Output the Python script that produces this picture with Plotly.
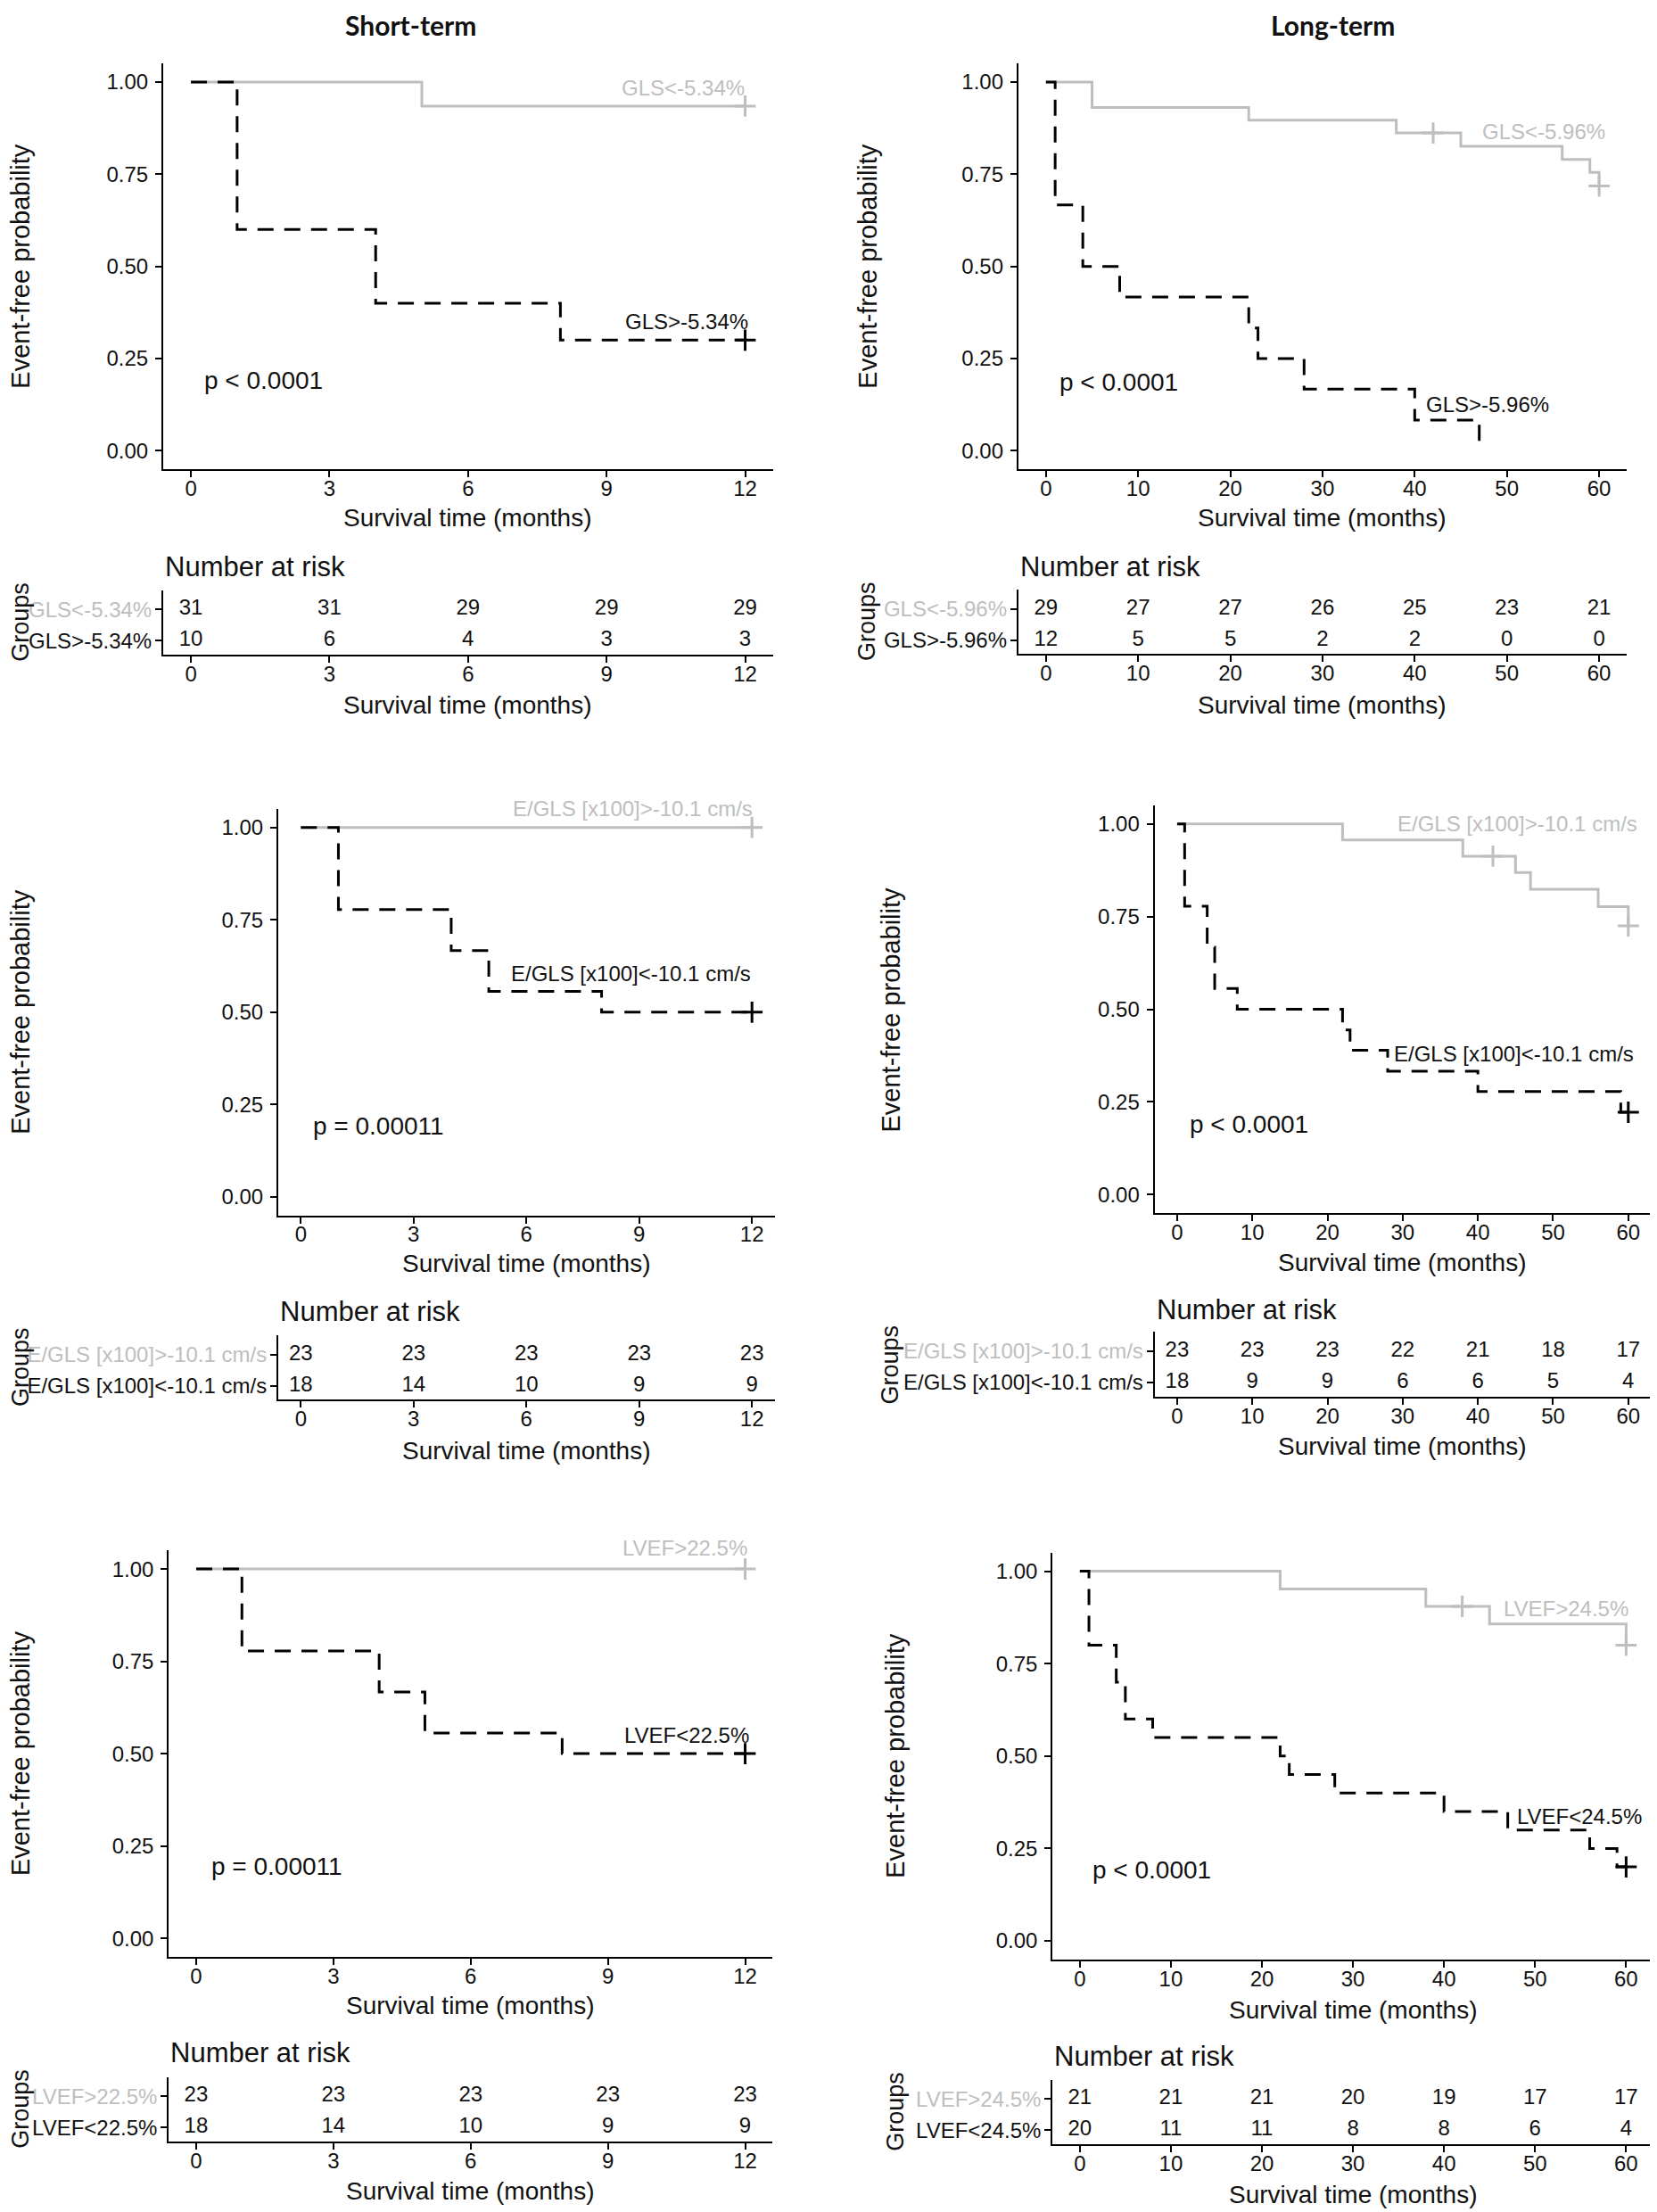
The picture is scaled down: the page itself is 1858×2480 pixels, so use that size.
import plotly.graph_objects as go

W, H = 1858, 2480
GRAY = "#BEBEBE"
BLACK = "#000000"
FONT = "Liberation Sans, Arial, sans-serif"
TITLE_FONT = "Lato, Open Sans, sans-serif"

# ---------------- data ----------------
col_titles = ["Short-term", "Long-term"]
y_title = "Event-free probability"
x_title = "Survival time (months)"

short_ticks = [0, 3, 6, 9, 12]
long_ticks = [0, 10, 20, 30, 40, 50, 60]

# Panel A: short-term GLS
A_gray_t = [0, 5, 12]
A_gray_s = [1.0, 0.935, 0.935]
A_gray_ct = [12]
A_gray_cs = [0.935]
A_black_t = [0, 1, 4, 8, 12]
A_black_s = [1.0, 0.60, 0.40, 0.30, 0.30]
A_black_ct = [12]
A_black_cs = [0.30]
A_groups = ["GLS&lt;-5.34%", "GLS&gt;-5.34%"]
A_risk_gray = [31, 31, 29, 29, 29]
A_risk_black = [10, 6, 4, 3, 3]
A_pval = "p &lt; 0.0001"

# Panel B: long-term GLS
B_gray_t = [0, 5, 22, 38, 45, 56, 59, 60]
B_gray_s = [1.0, 0.931, 0.897, 0.862, 0.826, 0.790, 0.755, 0.718]
B_gray_ct = [42, 60]
B_gray_cs = [0.862, 0.718]
B_black_t = [0, 1, 4, 8, 22, 23, 28, 40, 47]
B_black_s = [1.0, 0.667, 0.50, 0.417, 0.333, 0.25, 0.167, 0.083, 0.0]
B_black_ct = []
B_black_cs = []
B_groups = ["GLS&lt;-5.96%", "GLS&gt;-5.96%"]
B_risk_gray = [29, 27, 27, 26, 25, 23, 21]
B_risk_black = [12, 5, 5, 2, 2, 0, 0]
B_pval = "p &lt; 0.0001"

# Panel C: short-term E/GLS
C_gray_t = [0, 12]
C_gray_s = [1.0, 1.0]
C_gray_ct = [12]
C_gray_cs = [1.0]
C_black_t = [0, 1, 4, 5, 8, 12]
C_black_s = [1.0, 0.778, 0.667, 0.556, 0.50, 0.50]
C_black_ct = [12]
C_black_cs = [0.50]
C_groups = ["E/GLS [x100]&gt;-10.1 cm/s", "E/GLS [x100]&lt;-10.1 cm/s"]
C_risk_gray = [23, 23, 23, 23, 23]
C_risk_black = [18, 14, 10, 9, 9]
C_pval = "p = 0.00011"

# Panel D: long-term E/GLS
D_gray_t = [0, 22, 38, 45, 47, 56, 60]
D_gray_s = [1.0, 0.957, 0.913, 0.869, 0.824, 0.777, 0.725]
D_gray_ct = [42, 60]
D_gray_cs = [0.913, 0.725]
D_black_t = [0, 1, 4, 5, 8, 22, 23, 28, 40, 59, 60]
D_black_s = [1.0, 0.778, 0.667, 0.556, 0.50, 0.444, 0.389, 0.333, 0.278, 0.222, 0.222]
D_black_ct = [60]
D_black_cs = [0.222]
D_groups = ["E/GLS [x100]&gt;-10.1 cm/s", "E/GLS [x100]&lt;-10.1 cm/s"]
D_risk_gray = [23, 23, 23, 22, 21, 18, 17]
D_risk_black = [18, 9, 9, 6, 6, 5, 4]
D_pval = "p &lt; 0.0001"

# Panel E: short-term LVEF
E_gray_t = [0, 12]
E_gray_s = [1.0, 1.0]
E_gray_ct = [12]
E_gray_cs = [1.0]
E_black_t = [0, 1, 4, 5, 8, 12]
E_black_s = [1.0, 0.778, 0.667, 0.556, 0.50, 0.50]
E_black_ct = [12]
E_black_cs = [0.50]
E_groups = ["LVEF&gt;22.5%", "LVEF&lt;22.5%"]
E_risk_gray = [23, 23, 23, 23, 23]
E_risk_black = [18, 14, 10, 9, 9]
E_pval = "p = 0.00011"

# Panel F: long-term LVEF
F_gray_t = [0, 22, 38, 45, 60]
F_gray_s = [1.0, 0.952, 0.905, 0.857, 0.80]
F_gray_ct = [42, 60]
F_gray_cs = [0.905, 0.80]
F_black_t = [0, 1, 4, 5, 8, 22, 23, 28, 40, 47, 56, 59, 60]
F_black_s = [1.0, 0.80, 0.70, 0.60, 0.55, 0.50, 0.45, 0.40, 0.35, 0.30, 0.25, 0.20, 0.20]
F_black_ct = [60]
F_black_cs = [0.20]
F_groups = ["LVEF&gt;24.5%", "LVEF&lt;24.5%"]
F_risk_gray = [21, 21, 21, 20, 19, 17, 17]
F_risk_black = [20, 11, 11, 8, 8, 6, 4]
F_pval = "p &lt; 0.0001"

# ---------------- layout (pixel geometry) ----------------
panels = [
    dict(ticks=short_ticks, gt=A_gray_t, gs=A_gray_s, gct=A_gray_ct, gcs=A_gray_cs,
         bt=A_black_t, bs=A_black_s, bct=A_black_ct, bcs=A_black_cs, groups=A_groups,
         rg=A_risk_gray, rb=A_risk_black, pval=A_pval,
         kx=(185, 868.6), ky=(71.4, 526), tbot=734,
         glab=(12.03, 0.984), blab=(12.1, 0.351), pxy=(0.25, 0.19),
         ytx=25, grx=25, kxt=580, txt=790, nar=635),
    dict(ticks=long_ticks, gt=B_gray_t, gs=B_gray_s, gct=B_gray_ct, gcs=B_gray_cs,
         bt=B_black_t, bs=B_black_s, bct=B_black_ct, bcs=B_black_cs, groups=B_groups,
         rg=B_risk_gray, rb=B_risk_black, pval=B_pval,
         kx=(1143.8, 1826.1), ky=(71.4, 526), tbot=733.3,
         glab=(60.85, 0.867), blab=(54.8, 0.126), pxy=(1.27, 0.186),
         ytx=975, grx=974, kxt=580, txt=790, nar=635),
    dict(ticks=short_ticks, gt=C_gray_t, gs=C_gray_s, gct=C_gray_ct, gcs=C_gray_cs,
         bt=C_black_t, bs=C_black_s, bct=C_black_ct, bcs=C_black_cs, groups=C_groups,
         rg=C_risk_gray, rb=C_risk_black, pval=C_pval,
         kx=(314, 870.5), ky=(907, 1362.6), tbot=1569.3,
         glab=(12.07, 1.051), blab=(12.03, 0.605), pxy=(0.28, 0.192),
         ytx=25, grx=25, kxt=1416.7, txt=1626.7, nar=1470),
    dict(ticks=long_ticks, gt=D_gray_t, gs=D_gray_s, gct=D_gray_ct, gcs=D_gray_cs,
         bt=D_black_t, bs=D_black_s, bct=D_black_ct, bcs=D_black_cs, groups=D_groups,
         rg=D_risk_gray, rb=D_risk_black, pval=D_pval,
         kx=(1296.6, 1853.1), ky=(903, 1360), tbot=1565.7,
         glab=(61.4, 1.0), blab=(61.0, 0.38), pxy=(1.4, 0.19),
         ytx=1000, grx=1000, kxt=1415, txt=1621.7, nar=1468),
    dict(ticks=short_ticks, gt=E_gray_t, gs=E_gray_s, gct=E_gray_ct, gcs=E_gray_cs,
         bt=E_black_t, bs=E_black_s, bct=E_black_ct, bcs=E_black_cs, groups=E_groups,
         rg=E_risk_gray, rb=E_risk_black, pval=E_pval,
         kx=(191.2, 868.3), ky=(1738.4, 2193.8), tbot=2401,
         glab=(12.09, 1.056), blab=(12.12, 0.55), pxy=(0.29, 0.195),
         ytx=25, grx=25, kxt=2248, txt=2456.7, nar=2301.7),
    dict(ticks=long_ticks, gt=F_gray_t, gs=F_gray_s, gct=F_gray_ct, gcs=F_gray_cs,
         bt=F_black_t, bs=F_black_s, bct=F_black_ct, bcs=F_black_cs, groups=F_groups,
         rg=F_risk_gray, rb=F_risk_black, pval=F_pval,
         kx=(1182.2, 1856), ky=(1740.9, 2196.7), tbot=2404,
         glab=(60.45, 0.898), blab=(61.9, 0.336), pxy=(1.2, 0.193),
         ytx=1006, grx=1006, kxt=2253.8, txt=2460, nar=2305),
]

TABLE_RANGE = [0.55, 2.62]
KM_RANGE = [-0.05, 1.05]
ROW_PX = 35.0
DX, DY = -10.0, -8.0   # global offset correction


def fx(p):
    return (p + DX) / W


def fy(p):
    return 1 - (p + DY) / H


def ydom(v):
    return (v - KM_RANGE[0]) / (KM_RANGE[1] - KM_RANGE[0])


axis_common = dict(showline=True, linecolor="#000", linewidth=2, ticks="outside",
                   ticklen=7, tickwidth=2, tickcolor="#000", showgrid=False,
                   zeroline=False, fixedrange=True,
                   tickfont=dict(family=FONT, size=24, color="#111"))

fig = go.Figure()
layout = {}
ann = []


def txt(x, y, text, size, color="#111", xanchor="center", yanchor="middle",
        angle=0, family=FONT, xref="paper", yref="paper"):
    ann.append(dict(x=x, y=y, xref=xref, yref=yref, text=text, showarrow=False,
                    xanchor=xanchor, yanchor=yanchor, textangle=angle,
                    font=dict(family=family, size=size, color=color)))


for i, P in enumerate(panels):
    k = 2 * i + 1
    t = 2 * i + 2
    kx = "x" if k == 1 else f"x{k}"
    ky = "y" if k == 1 else f"y{k}"
    tx = f"x{t}"
    ty = f"y{t}"
    ticks = P["ticks"]
    xmax = ticks[-1]
    xr = [-0.05 * xmax, 1.05 * xmax]
    xdom = [fx(P["kx"][0]), min(fx(P["kx"][1]), 1.0)]

    layout["xaxis" if k == 1 else f"xaxis{k}"] = dict(
        axis_common, domain=xdom, range=xr, anchor=ky, ticklabelstandoff=-8,
        tickvals=ticks, ticktext=[str(v) for v in ticks])
    layout["yaxis" if k == 1 else f"yaxis{k}"] = dict(
        axis_common, domain=[fy(P["ky"][1]), fy(P["ky"][0])], range=KM_RANGE,
        anchor=kx, ticklabelstandoff=3, tickvals=[0, 0.25, 0.5, 0.75, 1.0],
        ticktext=["0.00", "0.25", "0.50", "0.75", "1.00"])

    tbot = P["tbot"]
    ttop = tbot - (TABLE_RANGE[1] - TABLE_RANGE[0]) * ROW_PX
    layout[f"xaxis{t}"] = dict(
        axis_common, domain=xdom, range=xr, anchor=ty, ticklabelstandoff=-8,
        tickvals=ticks, ticktext=[str(v) for v in ticks])
    layout[f"yaxis{t}"] = dict(
        axis_common, domain=[fy(tbot), fy(ttop)], range=TABLE_RANGE, anchor=tx,
        tickvals=[2, 1], ticklabelstandoff=-1,
        ticktext=[f"<span style='color:{GRAY}'>{P['groups'][0]}</span>",
                  f"<span style='color:#111'>{P['groups'][1]}</span>"])

    # KM curves
    fig.add_trace(go.Scatter(x=P["gt"], y=P["gs"], mode="lines", line_shape="hv",
                             line=dict(color=GRAY, width=3), xaxis=kx, yaxis=ky,
                             hoverinfo="skip"))
    fig.add_trace(go.Scatter(x=P["bt"], y=P["bs"], mode="lines", line_shape="hv",
                             line=dict(color=BLACK, width=3, dash="18px,12px"),
                             xaxis=kx, yaxis=ky, hoverinfo="skip"))
    if P["gct"]:
        fig.add_trace(go.Scatter(x=P["gct"], y=P["gcs"], mode="markers",
                                 marker=dict(symbol="cross-thin", size=17,
                                             line=dict(color=GRAY, width=3)),
                                 xaxis=kx, yaxis=ky, cliponaxis=False, hoverinfo="skip"))
    if P["bct"]:
        fig.add_trace(go.Scatter(x=P["bct"], y=P["bcs"], mode="markers",
                                 marker=dict(symbol="cross-thin", size=17,
                                             line=dict(color=BLACK, width=3)),
                                 xaxis=kx, yaxis=ky, cliponaxis=False, hoverinfo="skip"))

    # risk table numbers
    fig.add_trace(go.Scatter(x=ticks, y=[2] * len(ticks), mode="text",
                             text=[str(v) for v in P["rg"]],
                             textfont=dict(family=FONT, size=24, color="#111"),
                             xaxis=tx, yaxis=ty, cliponaxis=False, hoverinfo="skip"))
    fig.add_trace(go.Scatter(x=ticks, y=[1] * len(ticks), mode="text",
                             text=[str(v) for v in P["rb"]],
                             textfont=dict(family=FONT, size=24, color="#111"),
                             xaxis=tx, yaxis=ty, cliponaxis=False, hoverinfo="skip"))

    # curve labels and p-value (x in data units, y via the axis domain)
    txt(P["glab"][0], ydom(P["glab"][1]), P["groups"][0], 24, color=GRAY,
        xanchor="right", xref=kx, yref=f"{ky} domain")
    txt(P["blab"][0], ydom(P["blab"][1]), P["groups"][1], 24, color="#111",
        xanchor="right", xref=kx, yref=f"{ky} domain")
    txt(P["pxy"][0], ydom(P["pxy"][1]), P["pval"], 28, color="#111",
        xanchor="left", xref=kx, yref=f"{ky} domain")

    # titles
    cx = (xdom[0] + fx(P["kx"][1])) / 2
    txt(fx(P["ytx"]), fy((P["ky"][0] + P["ky"][1]) / 2), y_title, 29, angle=-90)
    txt(cx, fy(P["kxt"]), x_title, 28)
    txt(cx, fy(P["txt"]), x_title, 28)
    txt(xdom[0], fy(P["nar"]), "Number at risk", 31, xanchor="left")
    txt(fx(P["grx"]), fy((ttop + tbot) / 2), "Groups", 27, angle=-90)

# column titles
txt(452 / W, 1 - 20 / H, f"<b>{col_titles[0]}</b>", 30, family=TITLE_FONT)
txt(1486 / W, 1 - 20 / H, f"<b>{col_titles[1]}</b>", 30, family=TITLE_FONT)

fig.update_layout(width=W, height=H, margin=dict(l=0, r=0, t=0, b=0),
                  paper_bgcolor="white", plot_bgcolor="white", showlegend=False,
                  annotations=ann, **layout)

fig.write_html("out.html")
